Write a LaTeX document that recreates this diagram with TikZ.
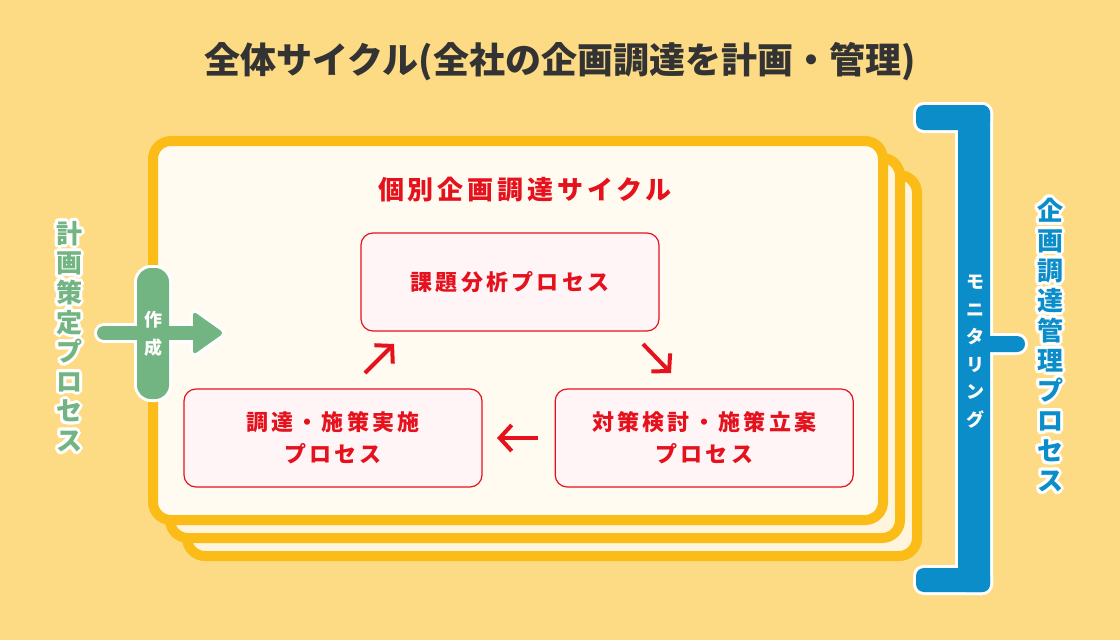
\documentclass[tikz,border=0pt]{standalone}
\usepackage{fontspec}
\setmainfont{Noto Sans CJK JP}
\usetikzlibrary{arrows.meta,calc,positioning}

\definecolor{bgYellow}{HTML}{FDDB85}
\definecolor{cardOrange}{HTML}{FBBC18}
\definecolor{frontCream}{HTML}{FFFBF0}
\definecolor{backCream}{HTML}{FFF4DC}
\definecolor{cycleRed}{HTML}{E5121D}
\definecolor{procPink}{HTML}{FFF5F7}
\definecolor{planGreen}{HTML}{72B582}
\definecolor{monBlue}{HTML}{0A8DC8}
\definecolor{titleGray}{HTML}{333333}

\tikzset{
    card/.style = {draw=cardOrange, line width=10pt, rounded corners=18pt},
    mainTitle/.style = {text=titleGray, inner sep=0pt,
        font=\fontsize{36pt}{40pt}\selectfont\bfseries},
    cycleTitle/.style = {text=cycleRed, inner sep=0pt,
        font=\fontsize{26pt}{30pt}\selectfont\bfseries\addfontfeature{LetterSpace=15}},
    process/.style = {draw=cycleRed, line width=1.2pt, fill=procPink,
        rounded corners=12pt, minimum width=298pt, minimum height=98pt,
        text=cycleRed, align=center,
        font=\fontsize{22pt}{32pt}\selectfont\bfseries\addfontfeature{LetterSpace=15}},
    cycArrow/.style = {draw=cycleRed, line width=4pt,
        -{Straight Barb[length=12pt,width=26pt]}},
    vlabel/.style = {align=center, inner sep=0pt,
        font=\fontsize{26pt}{29.6pt}\selectfont\bfseries},
    pill/.style = {rectangle, rounded corners=14pt,
        minimum width=32pt, minimum height=131pt, inner sep=0pt},
}

% text with a white rim
\newcommand{\haloNode}[4]{%
    \foreach \ang in {0,30,...,330}
        \node [#1, text=white] at ($(#3)+(\ang:3pt)$) {#4};
    \node [#1] (#2) at (#3) {#4};
}

\begin{document}
\begin{tikzpicture}[x=1pt, y=-1pt, node distance=10pt]
	% background
	\fill [bgYellow] (0,0) rectangle (1120,640);
	\useasboundingbox (0,0) rectangle (1120,640);

	% title
	\node [mainTitle, name=allCycle] at (560,62) {全体サイクル(全社の企画調達を計画・管理)};

	% stacked cards
	\draw [card, fill=backCream] (187,175) rectangle (917,556);
	\draw [card, fill=backCream] (170,158) rectangle (900,538);
	\draw [card, fill=frontCream] (153,141) rectangle (883,520);

	% cycle title
	\node [cycleTitle, name=subCycle] at (525,190) {個別企画調達サイクル};

	% processes
	\node [process, name=analysis] at (510,282) {課題分析プロセス};
	\node [process, name=execution] at (333,438) {調達・施策実施\\プロセス};
	\node [process, right=72pt of execution, name=planning] {対策検討・施策立案\\プロセス};

	% cycle arrows
	\coordinate (upFrom) at (365,373);
	\coordinate (upTo) at (394,344);
	\coordinate (downFrom) at (643,344);
	\coordinate (downTo) at (671,373);
	\coordinate (backFrom) at (538,438);
	\coordinate (backTo) at (497,438);
	\draw [cycArrow] (upFrom) -- (upTo);
	\draw [cycArrow] (downFrom) -- (downTo);
	\draw [cycArrow] (backFrom) -- (backTo);

	% plan arrow
	\coordinate (planTail) at (104,333);
	\coordinate (planHead) at (195,333);
	\draw [white, line width=20pt, line cap=round] (planTail) -- (planHead);
	\filldraw [white, line width=6pt, rounded corners=4pt] (193,311) -- (224,333) -- (193,355) -- cycle;
	\node [pill, draw=white, fill=white, line width=6pt, name=pillRim] at (153,333.5) {};
	\draw [planGreen, line width=14pt, line cap=round] (planTail) -- (planHead);
	\fill [planGreen, rounded corners=4pt] (193,311) -- (224,333) -- (193,355) -- cycle;
	\node [pill, fill=planGreen, text=white, align=center,
		font=\fontsize{18pt}{28pt}\selectfont\bfseries, name=planPill] at (153,333.5) {作\\成};

	% plan label
	\haloNode{vlabel, text=planGreen}{planLabel}{69,336.5}{計\\画\\策\\定\\プ\\ロ\\セ\\ス}

	% monitoring bracket
	\foreach \a/\b in {{916,105}/{990,130}, {958,105}/{990,592}, {916,568}/{990,592}, {980,336}/{1025,352}}
		\draw [white, line width=6pt, fill=white, rounded corners=8pt] (\a) rectangle (\b);
	\foreach \a/\b in {{916,105}/{990,130}, {958,105}/{990,592}, {916,568}/{990,592}, {980,336}/{1025,352}}
		\fill [monBlue, rounded corners=8pt] (\a) rectangle (\b);
	\node [align=center, inner sep=0pt, text=white,
		font=\fontsize{18pt}{27.5pt}\selectfont\bfseries, name=monitor] at (975,351.5) {モ\\ニ\\タ\\リ\\ン\\グ};

	% management label
	\haloNode{vlabel, text=monBlue, font=\fontsize{26pt}{30pt}\selectfont\bfseries}{manageLabel}{1050,345}{企\\画\\調\\達\\管\\理\\プ\\ロ\\セ\\ス}
\end{tikzpicture}
\end{document}
